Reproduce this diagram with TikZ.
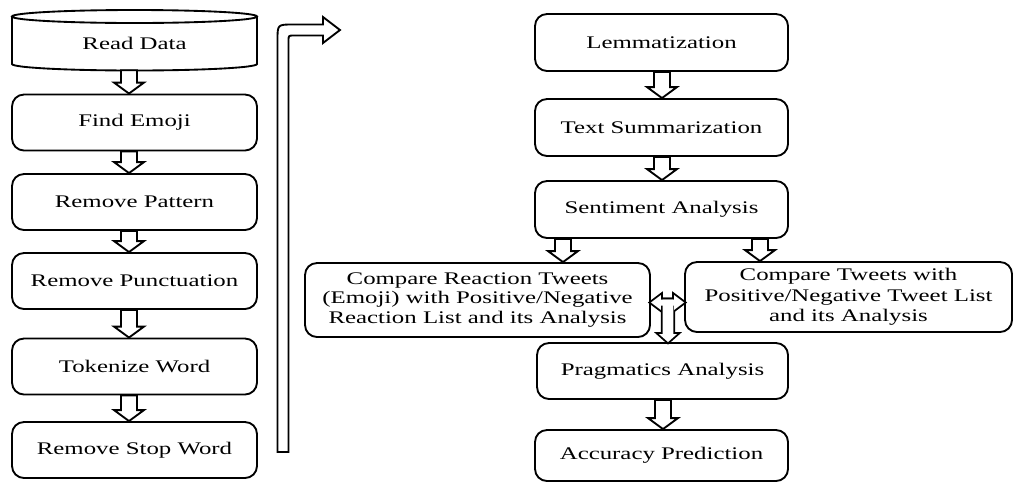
\documentclass[tikz,border=0pt]{standalone}
\usepackage{fontspec}
\setmainfont{Liberation Serif}[FakeStretch=1.4]
\usetikzlibrary{calc}
\tikzset{
  box/.style={draw, line width=1.4pt, rounded corners=9pt, align=center,
    font=\fontsize{13.3}{14.6}\selectfont, inner sep=0pt},
  lbox/.style={box, minimum width=183.75pt, minimum height=42pt},
  rbox/.style={box, minimum width=189.75pt, minimum height=42.75pt},
  harrow/.style={draw, line width=1.4pt, fill=white, line join=miter},
}
\newcommand\hdown[3]{%
  \coordinate (hs) at (#2.south -| #1);
  \coordinate (he) at (#3.north -| #1);
  \draw[harrow] ($(hs)+(-8,0)$) -- ($(he)+(-8,-11)$) -- ($(he)+(-15,-11)$) -- (he)
    -- ($(he)+(15,-11)$) -- ($(he)+(8,-11)$) -- ($(hs)+(8,0)$) -- cycle;
}
\begin{document}
\begin{tikzpicture}[x=0.75pt, y=-0.75pt]
\useasboundingbox (0,0) rectangle (1015,483);
% column x positions for connectors
\coordinate (xl) at (129,0);
\coordinate (xr) at (662,0);
\coordinate (xs1) at (563,0);
\coordinate (xs2) at (760,0);
\coordinate (xa) at (663,0);
% Read Data cylinder
\draw[line width=1.4pt] (12,16.5) -- (12,64) arc[start angle=180, end angle=0, x radius=122.5, y radius=6.5] -- (257,16.5);
\draw[line width=1.4pt] (134.5,16.5) ellipse[x radius=122.5, y radius=6.5];
\node[font=\fontsize{13.3}{14.6}\selectfont, minimum width=183.75pt, minimum height=40.1pt, inner sep=0pt] (rd) at (134.5,43.25) {Read Data};
% left column
\node[lbox] (fe) at (134.5,122.5) {Find Emoji};
\node[lbox] (rp) at (134.5,202) {Remove Pattern};
\node[lbox] (rpu) at (134.5,281) {Remove Punctuation};
\node[lbox] (tw) at (134.5,366.5) {Tokenize Word};
\node[lbox] (rsw) at (134.5,450) {Remove Stop Word};
% right column
\node[rbox] (lem) at (661.5,42.5) {Lemmatization};
\node[rbox] (ts) at (661.5,127.5) {Text Summarization};
\node[rbox] (sa) at (661.5,209.5) {Sentiment Analysis};
\node[box, minimum width=258.75pt, minimum height=55.5pt] (cr) at (477.5,300)
  {Compare Reaction Tweets\\(Emoji) with Positive/Negative\\Reaction List and its Analysis};
\node[box, minimum width=245.25pt, minimum height=52.5pt, font=\fontsize{13.3}{15.5}\selectfont] (ct) at (848.5,297)
  {Compare Tweets with\\Positive/Negative Tweet List\\and its Analysis};
\node[box, minimum width=188.25pt, minimum height=42pt] (pa) at (662.5,371) {Pragmatics Analysis};
\node[rbox, minimum height=38.25pt] (ap) at (661.5,455.5) {Accuracy Prediction};
% hollow arrows
\hdown{xl}{rd}{fe}
\hdown{xl}{fe}{rp}
\hdown{xl}{rp}{rpu}
\hdown{xl}{rpu}{tw}
\hdown{xl}{tw}{rsw}
\hdown{xr}{lem}{ts}
\hdown{xr}{ts}{sa}
\hdown{xs1}{sa}{cr}
\hdown{xs2}{sa}{ct}
\hdown{xa}{pa}{ap}
% long continuation arrow
\coordinate (lb) at (283,452);
\draw[harrow] (277.5,452) -- (277.5,40) .. controls (277.5,24.5) .. (293,24.5) -- (323,24.5)
  -- (323,17) -- (340,30) -- (323,43) -- (323,35.5) -- (294,35.5)
  .. controls (288.5,35.5) .. (288.5,41) -- (288.5,452) -- cycle;
% T-shaped double arrow between the compare boxes and pragmatics
\coordinate (hy) at (0,302.5);
\coordinate (vx) at (668,0);
\coordinate (hl) at (cr.east |- hy);
\coordinate (hr) at (ct.west |- hy);
\coordinate (vt) at (vx |- hy);
\coordinate (vb) at (pa.north -| vx);
\def\Hpath{(hl) -- ($(hl)+(10,-7.5)$) -- ($(hl)+(10,-3)$) -- ($(hr)+(-10,-3)$) -- ($(hr)+(-10,-7.5)$) -- (hr)
  -- ($(hr)+(-10,7.5)$) -- ($(hr)+(-10,3)$) -- ($(hl)+(10,3)$) -- ($(hl)+(10,7.5)$) -- cycle}
\def\Vpath{($(vt)+(-5.3,-3)$) -- ($(vb)+(-5.3,-8)$) -- ($(vb)+(-9,-8)$) -- (vb) -- ($(vb)+(9,-8)$)
  -- ($(vb)+(5.3,-8)$) -- ($(vt)+(5.3,-3)$) -- cycle}
\draw[line width=2.8pt, line join=miter] \Hpath;
\draw[line width=2.8pt, line join=miter] \Vpath;
\fill[white] \Hpath;
\fill[white] \Vpath;
\end{tikzpicture}
\end{document}
